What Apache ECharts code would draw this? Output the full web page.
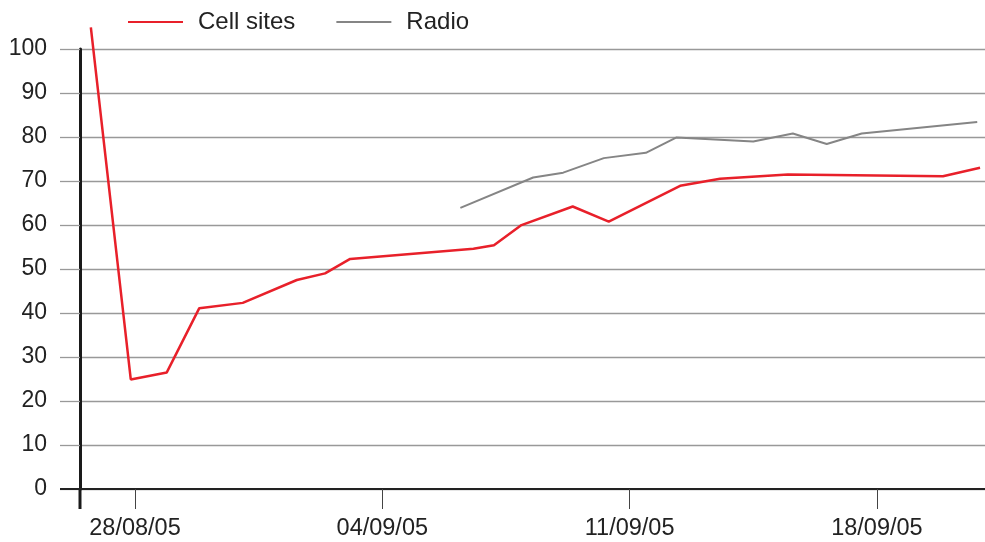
<!DOCTYPE html>
<html>
<head>
<meta charset="utf-8">
<script src="https://cdn.jsdelivr.net/npm/echarts@6/dist/echarts.min.js"></script>
<style>
  html, body { margin: 0; padding: 0; background: #fff; }
  #main { width: 985px; height: 542px; }
</style>
</head>
<body>
<div id="main"></div>
<script>
// x = days after 28/08/05
var cellDays = [-1.25, -0.12, 0.90, 1.82, 3.05, 4.58, 5.38, 6.09, 9.58, 10.16, 10.92, 12.39, 13.41, 15.43, 16.56, 18.48, 22.87, 23.92];
var cellValues = [104.9, 24.9, 26.5, 41.1, 42.3, 47.5, 49.0, 52.3, 54.6, 55.4, 59.9, 64.2, 60.75, 68.9, 70.5, 71.5, 71.1, 73.0];
var radioDays = [9.21, 11.27, 12.12, 13.27, 14.46, 15.33, 17.50, 18.62, 19.58, 20.57, 23.84];
var radioValues = [63.9, 70.8, 71.9, 75.2, 76.4, 79.9, 79.0, 80.8, 78.4, 80.8, 83.4];
var dateTicks = [0, 7, 14, 21];

function pairs(xs, ys) {
  return xs.map(function (x, i) { return [x, ys[i]]; });
}
function dayLabel(d) {
  var t = new Date(2005, 7, 28 + Math.round(d));
  var dd = ('0' + t.getDate()).slice(-2);
  var mm = ('0' + (t.getMonth() + 1)).slice(-2);
  return dd + '/' + mm + '/05';
}

var font = '"Liberation Sans", Arial, sans-serif';
var myChart = echarts.init(document.getElementById('main'));
var option = {
  animation: false,
  textStyle: { fontFamily: font },
  legend: {
    left: 123,
    top: 5,
    itemWidth: 55,
    itemHeight: 2,
    itemGap: 41,
    icon: 'rect',
    textStyle: { fontSize: 24, color: '#222', fontFamily: font, padding: [0, 0, 0, 10] },
    data: ['Cell sites', 'Radio']
  },
  grid: { left: 80, right: 0, top: 49, bottom: 53 },
  xAxis: {
    type: 'value',
    min: -1.557,
    max: 24.06,
    splitLine: { show: false },
    axisLine: { onZero: true, lineStyle: { color: '#222', width: 2 } },
    axisTick: { show: true, customValues: dateTicks, length: 20, lineStyle: { color: '#444', width: 1 } },
    axisLabel: {
      customValues: dateTicks,
      margin: 28,
      fontSize: 23.5,
      color: '#222',
      formatter: dayLabel
    }
  },
  yAxis: {
    type: 'value',
    min: 0,
    max: 100,
    interval: 10,
    axisLine: { show: true, onZero: false, lineStyle: { color: '#1a1a1a', width: 3 } },
    axisTick: { show: true, length: 20, lineStyle: { color: '#999', width: 1.3 } },
    axisLabel: { margin: 33, fontSize: 23, color: '#222' },
    splitLine: { lineStyle: { color: '#999', width: 1.3 } }
  },
  series: [
    {
      name: 'Cell sites',
      type: 'line',
      data: pairs(cellDays, cellValues),
      showSymbol: false,
      clip: false,
      color: '#e8202a',
      lineStyle: { color: '#e8202a', width: 2.5 },
      z: 3
    },
    {
      name: 'Radio',
      type: 'line',
      data: pairs(radioDays, radioValues),
      showSymbol: false,
      color: '#858585',
      lineStyle: { color: '#858585', width: 2 },
      z: 2
    }
  ]
};
myChart.setOption(option);

// extend the y axis below zero and the zero line to the left, as in the print
var p0 = myChart.convertToPixel({ xAxisIndex: 0, yAxisIndex: 0 }, [-1.557, 0]);
myChart.setOption({
  graphic: [
    { type: 'line', shape: { x1: p0[0], y1: p0[1], x2: p0[0], y2: p0[1] + 20 }, style: { stroke: '#1a1a1a', lineWidth: 3 }, z: 10 },
    { type: 'line', shape: { x1: p0[0] - 20, y1: p0[1], x2: p0[0], y2: p0[1] }, style: { stroke: '#222', lineWidth: 2 }, z: 10 }
  ]
});
</script>
</body>
</html>
